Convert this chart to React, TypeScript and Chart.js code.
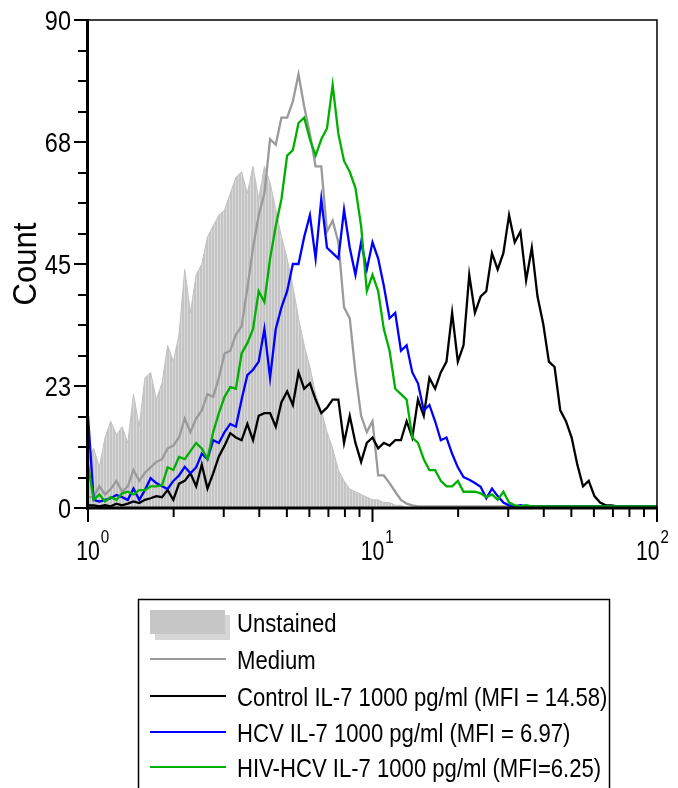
import { useEffect, useRef } from "react";
import { Chart, registerables } from "chart.js";

Chart.register(...registerables);

// Fluorescence channels (log-spaced), 10^0 .. 10^2
const fluorescence = [
  1, 1.047, 1.096, 1.148, 1.202, 1.259, 1.318, 1.38, 1.445, 1.514,
  1.585, 1.66, 1.738, 1.82, 1.905, 1.995, 2.089, 2.188, 2.291, 2.399,
  2.512, 2.63, 2.754, 2.884, 3.02, 3.162, 3.311, 3.467, 3.631, 3.802,
  3.981, 4.169, 4.365, 4.571, 4.786, 5.012, 5.248, 5.495, 5.754, 6.026,
  6.31, 6.607, 6.918, 7.244, 7.586, 7.943, 8.318, 8.71, 9.12, 9.55,
  10, 10.47, 10.96, 11.48, 12.02, 12.59, 13.18, 13.8, 14.45, 15.14,
  15.85, 16.6, 17.38, 18.2, 19.05, 19.95, 20.89, 21.88, 22.91, 23.99,
  25.12, 26.3, 27.54, 28.84, 30.2, 31.62, 33.11, 34.67, 36.31, 38.02,
  39.81, 41.69, 43.65, 45.71, 47.86, 50.12, 52.48, 54.95, 57.54, 60.26,
  63.1, 66.07, 69.18, 72.44, 75.86, 79.43, 83.18, 87.1, 91.2, 95.5,
  100,
];

const unstained = [
  9, 11, 7.5, 13, 16, 13.5, 15, 12, 21, 15,
  24, 25, 20, 23, 30, 27, 32, 44, 36, 43,
  45, 50, 52, 54, 55, 58, 61, 62, 58, 63,
  57, 63, 60, 55, 50, 46, 41, 35, 30, 26,
  21, 18, 14, 11, 7, 5, 3.5, 3, 2.5, 2,
  1.5, 1.5, 1, 1, 0.5, 0.5, 0, 0, 0, 0,
  0, 0, 0, 0, 0, 0, 0, 0, 0, 0,
  0, 0, 0, 0, 0, 0, 0, 0, 0, 0,
  0, 0, 0, 0, 0, 0, 0, 0, 0, 0,
  0, 0, 0, 0, 0, 0, 0, 0, 0, 0,
  0,
];

const medium = [
  2, 2, 4, 2.5, 3.5, 5, 3, 4, 7, 5,
  6.5, 7.5, 8.5, 9, 11, 11.5, 13, 16.5, 14, 16.5,
  18, 21, 20.5, 24, 28.5, 29, 32, 33.5, 40.5, 48,
  54, 58, 68, 67, 72, 72, 75, 80, 74, 69,
  63, 63, 51, 53, 49, 37, 35, 25, 17, 14,
  16, 6, 6, 4.6, 3, 1.5, 0.8, 0.5, 0.3, 0.3,
  0.3, 0.3, 0.3, 0.3, 0.3, 0.3, 0.3, 0.3, 0.3, 0.3,
  0.3, 0.3, 0.3, 0.3, 0.3, 0.3, 0.3, 0.3, 0.3, 0.3,
  0.3, 0.3, 0.3, 0.3, 0.3, 0.3, 0.3, 0.3, 0.3, 0.3,
  0.3, 0.3, 0.3, 0.3, 0.3, 0.3, 0.3, 0.3, 0.3, 0.3,
  0.3,
];

const controlIL7 = [
  0.5, 0.5, 0.3, 0.5, 0.3, 0.8, 0.5, 0.8, 1.2, 0.9,
  1.5, 1.8, 2.2, 2, 3.3, 1.5, 4.5, 5, 6.4, 4,
  8, 3.6, 6.4, 9.5, 11.5, 13.8, 13, 12.5, 15.5, 12.5,
  17, 17.5, 17.5, 15, 19.5, 21.5, 19, 25, 22, 23,
  20, 17.5, 18.5, 20, 20, 12, 17, 12, 8.5, 12,
  13, 11, 12, 11.5, 12.5, 12.5, 16, 13, 20, 17,
  24, 22, 25, 27, 36, 27, 30, 43, 36, 39,
  40, 47, 44, 47, 54, 49, 51, 42, 48, 39,
  34, 27, 26, 18, 16, 13, 8, 4, 5, 2.2,
  1, 0.5, 0.5, 0.3, 0.3, 0.3, 0.3, 0.3, 0.3, 0.3,
  0.3,
];

const hcvIL7 = [
  17, 1.5, 1.2, 1.5, 1.8, 2.4, 2, 1.5, 3.6, 1.5,
  3.3, 5.5, 4.6, 4, 3.5, 5, 6, 7.6, 6.4, 7.5,
  10, 9, 12.5, 12, 14, 15.5, 15, 20, 24.5, 25.5,
  27, 33, 24, 33, 37, 40, 45, 45, 50, 54,
  46, 57, 48, 47, 46, 55, 48, 43, 49, 44,
  49, 46, 41, 35, 36, 29, 30, 25, 23, 18,
  19, 16, 12.5, 13, 10, 7.5, 5.7, 5.2, 4.6, 3.9,
  1.8, 3.6, 2.2, 1, 0.5, 0.3, 0.5, 0.3, 0.3, 0.3,
  0.3, 0.3, 0.3, 0.3, 0.3, 0.3, 0.3, 0.3, 0.3, 0.3,
  0.3, 0.3, 0.3, 0.3, 0.3, 0.3, 0.3, 0.3, 0.3, 0.3,
  0.3,
];

const hivHcvIL7 = [
  8, 1.5, 2.5, 1.2, 2, 1.5, 2.7, 3, 2.5, 3.3,
  3.3, 4, 4, 4.2, 7.5, 7, 9.4, 9, 10.5, 12,
  11, 9, 14, 17.5, 20.5, 22.3, 22, 28.5, 30.4, 33,
  40, 38, 46, 52, 57, 65, 66, 71, 72, 68,
  65, 68, 70, 78, 69, 64, 62, 59, 52, 40,
  43, 40, 33, 29, 22, 21, 20, 13, 12, 9,
  7, 7, 5, 4, 4, 5, 3, 3, 3, 2.7,
  2, 2.5, 1.5, 3, 1, 0.5, 0.3, 0.5, 0.3, 0.3,
  0.3, 0.3, 0.3, 0.3, 0.3, 0.3, 0.3, 0.3, 0.3, 0.3,
  0.3, 0.3, 0.3, 0.3, 0.3, 0.3, 0.3, 0.3, 0.3, 0.3,
  0.3,
];

const seriesLabels = [
  "Unstained",
  "Medium",
  "Control IL-7 1000 pg/ml (MFI = 14.58)",
  "HCV IL-7 1000 pg/ml (MFI = 6.97)",
  "HIV-HCV IL-7 1000 pg/ml (MFI=6.25)",
];
const seriesColors = ["#c6c6c6", "#9a9a9a", "#000000", "#0000ff", "#00b000"];

const yMajorTicks = [0, 22.5, 45, 67.5, 90];
const yTickLabels = ["0", "23", "45", "68", "90"];
const xMajorTicks = [1, 10, 100];
const xTickExponents = ["0", "1", "2"];
const yAxisTitle = "Count";

const FONT = "'Liberation Sans', Arial, sans-serif";

function drawScaledText(
  ctx: CanvasRenderingContext2D,
  text: string,
  x: number,
  y: number,
  size: number,
  sx: number,
  align: CanvasTextAlign
) {
  ctx.save();
  ctx.translate(x, y);
  ctx.scale(sx, 1);
  ctx.font = `${size}px ${FONT}`;
  ctx.textAlign = align;
  ctx.textBaseline = "alphabetic";
  ctx.fillText(text, 0, 0);
  ctx.restore();
}

const framePlugin = {
  id: "framePlugin",
  afterDatasetsDraw(chart: any) {
    const { ctx, chartArea, scales } = chart;
    const { left, right, top, bottom } = chartArea;
    const xs = scales.x;
    const ys = scales.y;
    ctx.save();
    ctx.strokeStyle = "#000";
    ctx.fillStyle = "#000";

    // thin frame top/right
    ctx.lineWidth = 1.5;
    ctx.beginPath();
    ctx.moveTo(left, top);
    ctx.lineTo(right, top);
    ctx.lineTo(right, bottom);
    ctx.stroke();

    // thick axes
    ctx.lineWidth = 3;
    ctx.beginPath();
    ctx.moveTo(left - 0.5, top - 1);
    ctx.lineTo(left - 0.5, bottom + 1.5);
    ctx.stroke();
    ctx.beginPath();
    ctx.moveTo(left - 2, bottom);
    ctx.lineTo(right + 1, bottom);
    ctx.stroke();

    // y ticks (major + 3 minor between)
    ctx.lineWidth = 2;
    for (let i = 0; i < yMajorTicks.length; i++) {
      const v = yMajorTicks[i];
      const py = Math.round(ys.getPixelForValue(v));
      ctx.beginPath();
      ctx.moveTo(left - 14, py);
      ctx.lineTo(left - 2, py);
      ctx.stroke();
      if (i < yMajorTicks.length - 1) {
        const step = (yMajorTicks[i + 1] - v) / 4;
        for (let j = 1; j < 4; j++) {
          const pm = Math.round(ys.getPixelForValue(v + step * j));
          ctx.beginPath();
          ctx.moveTo(left - 10, pm);
          ctx.lineTo(left - 2, pm);
          ctx.stroke();
        }
      }
      drawScaledText(ctx, yTickLabels[i], left - 17, py + 9.5, 27, 0.87, "right");
    }

    // x ticks (log decades)
    const baseSize = 28;
    const baseSx = 0.76;
    const expSize = 19;
    const expSx = 0.8;
    const maxRight = right + 12;
    for (let d = 0; d < xMajorTicks.length; d++) {
      const base = xMajorTicks[d];
      const px = xs.getPixelForValue(base);
      ctx.beginPath();
      ctx.moveTo(px, bottom + 1);
      ctx.lineTo(px, bottom + 14);
      ctx.stroke();
      if (d < xMajorTicks.length - 1) {
        for (let m = 2; m <= 9; m++) {
          const pm = xs.getPixelForValue(base * m);
          ctx.beginPath();
          ctx.moveTo(pm, bottom + 1);
          ctx.lineTo(pm, bottom + 9);
          ctx.stroke();
        }
      }
      // label 10^n: "10" centred on the tick, kept inside the frame edge
      ctx.font = `${baseSize}px ${FONT}`;
      const wBase = ctx.measureText("10").width * baseSx;
      ctx.font = `${expSize}px ${FONT}`;
      const wExp = ctx.measureText(xTickExponents[d]).width * expSx;
      let startX = px - wBase / 2;
      if (startX + wBase + 1 + wExp > maxRight) startX = maxRight - (wBase + 1 + wExp);
      drawScaledText(ctx, "10", startX, bottom + 52, baseSize, baseSx, "left");
      drawScaledText(ctx, xTickExponents[d], startX + wBase + 1, bottom + 35, expSize, expSx, "left");
    }

    // y axis title
    ctx.save();
    ctx.translate(28, (top + bottom) / 2);
    ctx.rotate(-Math.PI / 2);
    ctx.scale(0.94, 1);
    ctx.font = `33px ${FONT}`;
    ctx.textAlign = "center";
    ctx.textBaseline = "alphabetic";
    ctx.fillText(yAxisTitle, 0, 0);
    ctx.restore();

    // legend box
    const lx = 130;
    const ly = 591;
    ctx.lineWidth = 1.5;
    ctx.strokeStyle = "#000";
    ctx.strokeRect(lx + 0.5, ly + 0.5, 471, 240);
    const rowY = [614, 651, 688, 724, 759];
    for (let i = 0; i < seriesLabels.length; i++) {
      if (i === 0) {
        ctx.fillStyle = "#d6d6d6";
        ctx.fillRect(147, 607, 75, 25);
        ctx.fillStyle = seriesColors[0];
        ctx.fillRect(142, 602, 75, 24);
      } else {
        ctx.strokeStyle = seriesColors[i];
        ctx.lineWidth = 2;
        ctx.beginPath();
        ctx.moveTo(142, rowY[i]);
        ctx.lineTo(218, rowY[i]);
        ctx.stroke();
      }
      ctx.fillStyle = "#000";
      drawScaledText(ctx, seriesLabels[i], 229, rowY[i] + 9.5, 26, 0.85, "left");
    }
    ctx.restore();
  },
};

function makeStripePattern(): CanvasPattern | string {
  const c = document.createElement("canvas");
  c.width = 3;
  c.height = 8;
  const g = c.getContext("2d");
  if (!g) return "#c6c6c6";
  g.fillStyle = "#c4c4c4";
  g.fillRect(0, 0, 3, 8);
  g.fillStyle = "#dadada";
  g.fillRect(2, 0, 1, 8);
  const p = g.createPattern(c, "repeat");
  return p || "#c6c6c6";
}

export default function App() {
  const canvasRef = useRef<HTMLCanvasElement | null>(null);

  useEffect(() => {
    const canvas = canvasRef.current;
    if (!canvas) return;
    const prevOverflow = document.documentElement.style.overflow;
    document.documentElement.style.overflow = "hidden";
    const toPoints = (vals: number[]) => fluorescence.map((f, i) => ({ x: f, y: vals[i] }));
    const series = [unstained, medium, controlIL7, hcvIL7, hivHcvIL7];
    const datasets: any[] = series.map((vals, i) => ({
      label: seriesLabels[i],
      data: toPoints(vals),
      borderColor: i === 0 ? "#c0c0c0" : seriesColors[i],
      backgroundColor: i === 0 ? makeStripePattern() : seriesColors[i],
      borderWidth: i === 0 ? 1 : 2.3,
      fill: i === 0 ? "origin" : false,
      pointRadius: 0,
      tension: 0,
      order: series.length - i,
    }));

    const chart = new Chart(canvas, {
      type: "line",
      data: { datasets },
      options: {
        animation: false,
        responsive: false,
        events: [],
        layout: { padding: { top: 12, right: 13, left: 0, bottom: 0 } },
        plugins: { legend: { display: false }, tooltip: { enabled: false } },
        scales: {
          x: {
            type: "logarithmic",
            min: 1,
            max: 100,
            ticks: { display: false },
            grid: { display: false },
            border: { display: false },
            afterFit: (s: any) => {
              s.height = 280;
            },
          },
          y: {
            min: 0,
            max: 90,
            ticks: { display: false },
            grid: { display: false },
            border: { display: false },
            afterFit: (s: any) => {
              s.width = 80;
            },
          },
        },
      },
      plugins: [framePlugin],
    });
    return () => {
      chart.destroy();
      document.documentElement.style.overflow = prevOverflow;
    };
  }, []);

  return (
    <div style={{ width: 662, height: 780 }}>
      <canvas ref={canvasRef} width={662} height={780} style={{ display: "block", width: 662, height: 780 }} />
    </div>
  );
}
